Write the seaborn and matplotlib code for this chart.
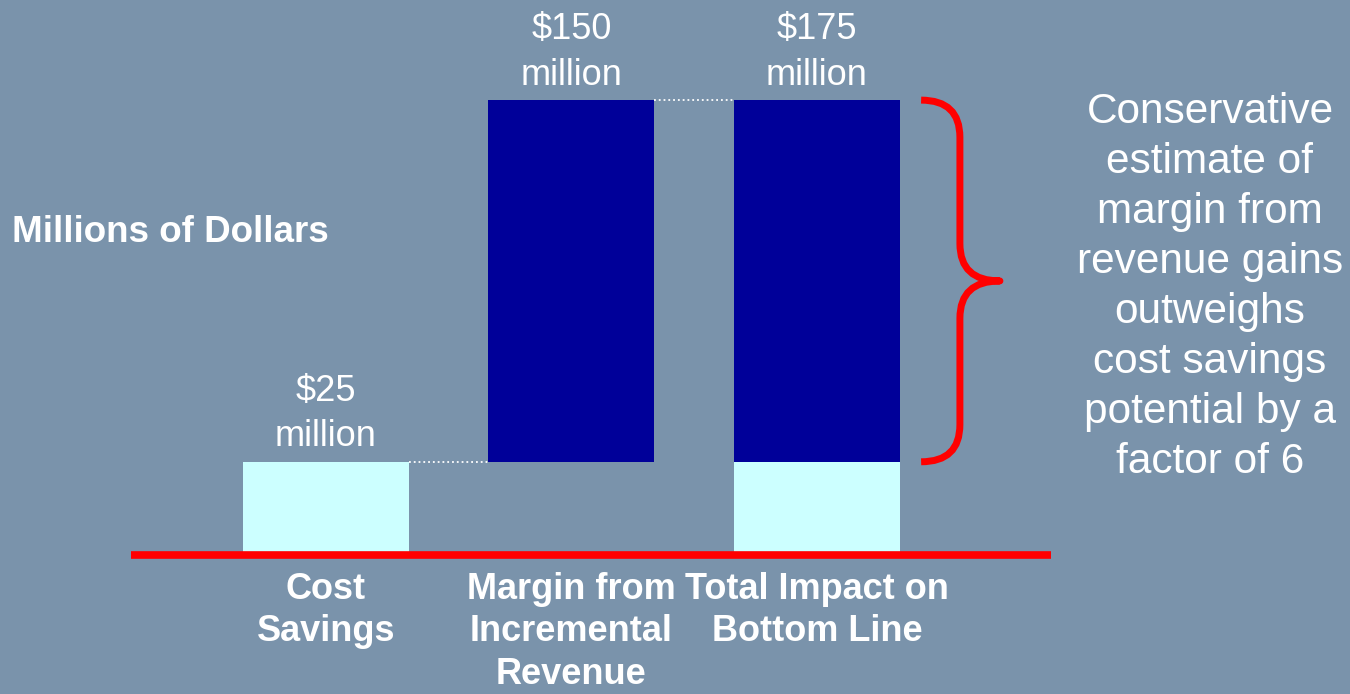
import numpy as np
import pandas as pd
import matplotlib
matplotlib.use("Agg")
import matplotlib.pyplot as plt
from matplotlib.path import Path
from matplotlib.patches import PathPatch
import seaborn as sns

# ---- data (heights as drawn in the reference) ----
categories = ["Cost\nSavings", "Margin from\nIncremental\nRevenue", "Total Impact on\nBottom Line"]
cost_segment = [25, 0, 25]          # light cyan segment
margin_base = [25, 25, 25]          # where the navy segment starts
margin_segment = [0, 97, 97]        # navy segment
value_labels = ["$25\nmillion", "$150\nmillion", "$175\nmillion"]
y_axis_title = "Millions of Dollars"
note_text = ("Conservative\nestimate of\nmargin from\nrevenue gains\noutweighs\n"
             "cost savings\npotential by a\nfactor of 6")

BG = "#7a93ab"
NAVY = "#000099"
CYAN = "#ccffff"
RED = "#ff0000"

sns.set_style("white")
plt.rcParams["font.family"] = ["Liberation Sans", "DejaVu Sans"]

df = pd.DataFrame({
    "category": categories,
    "cost": cost_segment,
    "base": margin_base,
    "margin": margin_segment,
})

fig = plt.figure(figsize=(13.5, 6.94), dpi=100, facecolor=BG)
ax = fig.add_axes([131 / 1350, 139 / 694, 920 / 1350, 522 / 694])
ax.set_facecolor(BG)

bar_w = 0.676
sns.barplot(data=df, x="category", y="cost", order=categories, color=CYAN,
            width=bar_w, linewidth=0, saturation=1, ax=ax, zorder=2)
sns.barplot(data=df, x="category", y="margin", order=categories, color=NAVY,
            width=bar_w, linewidth=0, saturation=1, bottom=df["base"].values,
            ax=ax, zorder=2)

ax.set_xlim(-0.794, 2.953)
ax.set_ylim(0, 140)

tops = [c if m == 0 else b + m for c, b, m in zip(cost_segment, margin_base, margin_segment)]

# value labels
for i, (lab, top) in enumerate(zip(value_labels, tops)):
    ax.text(i, top + 2.0, lab, ha="center", va="bottom", fontsize=26,
            color="white", linespacing=1.4)

# dotted connectors
for i in range(len(categories) - 1):
    ax.plot([i + bar_w / 2, i + 1 - bar_w / 2], [tops[i], tops[i]], ls=":",
            color="white", lw=1.3, zorder=3)

# red baseline
ax.axhline(0, color=RED, lw=5.5, zorder=4, clip_on=False, solid_capstyle="butt")

# brace beside the total bar
lo, hi = margin_base[2], tops[2]
mid = (lo + hi) / 2
x_tip = 2 + bar_w / 2 + 0.086
x_v = x_tip + 0.158
x_m = x_v + 0.163
r = 10
verts = [
    (x_tip, hi), (x_v, hi), (x_v, hi - r),
    (x_v, mid + r),
    (x_v, mid), (x_m, mid),
    (x_v, mid), (x_v, mid - r),
    (x_v, lo + r),
    (x_v, lo), (x_tip, lo),
]
codes = [Path.MOVETO, Path.CURVE3, Path.CURVE3,
         Path.LINETO,
         Path.CURVE3, Path.CURVE3,
         Path.CURVE3, Path.CURVE3,
         Path.LINETO,
         Path.CURVE3, Path.CURVE3]
brace = PathPatch(Path(verts, codes), facecolor="none", edgecolor=RED, lw=5,
                  capstyle="butt", joinstyle="round", clip_on=False, zorder=4)
ax.add_patch(brace)

# axes cosmetics
ax.set_xlabel("")
ax.set_ylabel("")
ax.set_yticks([])
ax.set_xticks(range(len(categories)))
ax.set_xticklabels(categories, fontsize=26, fontweight="bold", color="white",
                   linespacing=1.28)
ax.tick_params(axis="x", length=0, pad=12)
for s in ax.spines.values():
    s.set_visible(False)

fig.text(12 / 1350, 1 - 232 / 694, y_axis_title, ha="left", va="center",
         fontsize=26.5, fontweight="bold", color="white")
fig.text(1210 / 1350, 1 - 287 / 694, note_text, ha="center", va="center",
         fontsize=30.5, color="white", linespacing=1.32)

fig.savefig("out.png", dpi=100, facecolor=BG)
